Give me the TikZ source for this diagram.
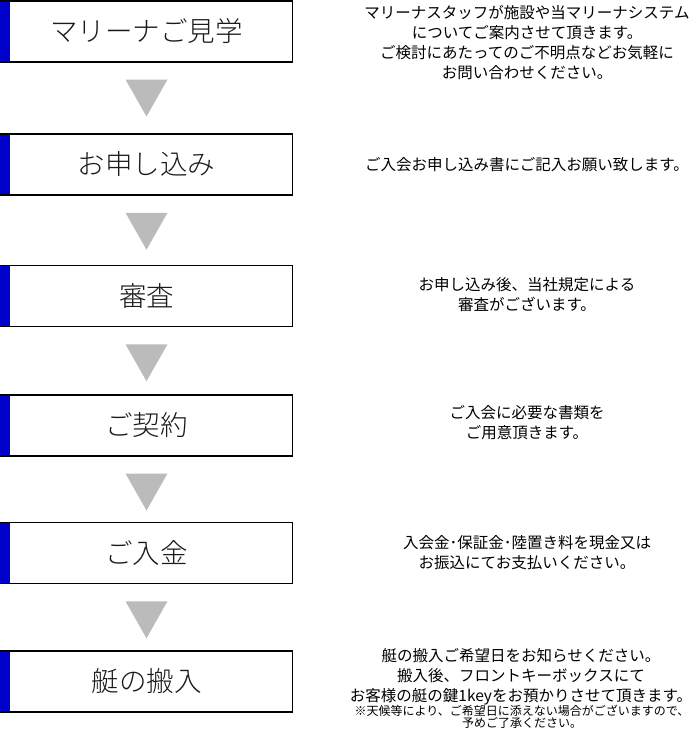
\documentclass[tikz,border=0pt]{standalone}
\usepackage{fontspec}
\setmainfont{Noto Sans CJK JP}
\IfFontExistsTF{Noto Sans CJK JP Light}{\newfontfamily\boxfont{Noto Sans CJK JP Light}}{\newfontfamily\boxfont{Noto Sans CJK JP}}
\usetikzlibrary{calc}
\definecolor{barblue}{HTML}{0000CC}
\definecolor{trigray}{HTML}{BBBBBB}
\definecolor{txt}{HTML}{1A1A1A}
\tikzset{
  stepbox/.style={draw=black, line width=1.5pt, fill=white, minimum width=291.5pt, minimum height=61pt, inner sep=0pt, font=\boxfont\fontsize{27.5}{30}\selectfont, text=txt},
  desc/.style={align=center, inner sep=0pt, font=\fontsize{15.5}{20}\selectfont, text=black},
  note/.style={align=center, inner sep=0pt, font=\fontsize{12}{12}\selectfont, text=black},
  tri/.style={fill=trigray}
}
\newcommand{\bluebar}[1]{\fill[barblue] ($(#1.north west)+(0,1.5)$) rectangle ($(#1.south west)+(10,-1.5)$);}
\newcommand{\downtri}[1]{\fill[tri] ($(#1.south)+(-21,17)$) -- ($(#1.south)+(21,17)$) -- ($(#1.south)+(0,54)$) -- cycle;}
\begin{document}
\begin{tikzpicture}[x=1pt,y=-1pt]
\useasboundingbox (0,0) rectangle (700,750);
\node[stepbox] (b1) at (146.5,31.25) {マリーナご見学};
\node[stepbox] (b2) at (146.5,164.5) {お申し込み};
\node[stepbox] (b3) at (146.5,296) {審査};
\node[stepbox] (b4) at (146.5,425.25) {ご契約};
\node[stepbox] (b5) at (146.5,553) {ご入金};
\node[stepbox] (b6) at (146.5,681.25) {艇の搬入};
\foreach \b in {b1,b2,b3,b4,b5,b6} {\bluebar{\b}}
\foreach \b in {b1,b2,b3,b4,b5} {\downtri{\b}}
\node[desc] (d1) at (527,43) {マリーナスタッフが施設や当マリーナシステム\\についてご案内させて頂きます。\\ご検討にあたってのご不明点などお気軽に\\お問い合わせください。};
\node[desc] (d2) at (527,165) {ご入会お申し込み書にご記入お願い致します。};
\node[desc] (d3) at (527,295) {お申し込み後、当社規定による\\審査がございます。};
\node[desc] (d4) at (527,423) {ご入会に必要な書類を\\ご用意頂きます。};
\node[desc] (d5) at (527,553) {入会金･保証金･陸置き料を現金又は\\お振込にてお支払いください。};
\node[desc] (d6) at (521,677) {艇の搬入ご希望日をお知らせください。\\搬入後、フロントキーボックスにて\\お客様の艇の鍵1keyをお預かりさせて頂きます。};
\node[note] (d6n) at (522,717) {※天候等により、ご希望日に添えない場合がございますので、\\予めご了承ください。};
\end{tikzpicture}
\end{document}
